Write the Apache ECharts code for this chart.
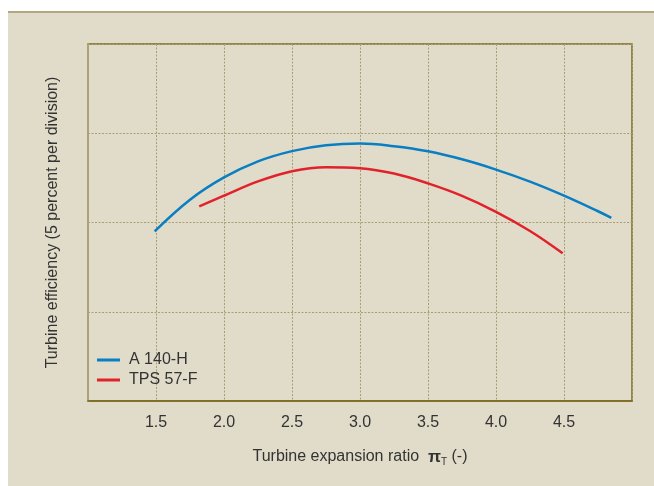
<!DOCTYPE html>
<html>
<head>
<meta charset="utf-8">
<script src="https://cdn.jsdelivr.net/npm/echarts@6/dist/echarts.min.js"></script>
<style>html,body{margin:0;padding:0;background:#fff;}#c{width:654px;height:486px;}</style>
</head>
<body>
<div id="c"></div>
<script>
// Data
const xTicks = [1.5, 2.0, 2.5, 3.0, 3.5, 4.0, 4.5];
const seriesNames = ['A 140-H', 'TPS 57-F'];
const a140X = [1.49, 1.75, 2.0, 2.25, 2.5, 2.75, 3.0, 3.25, 3.5, 3.75, 4.0, 4.25, 4.5, 4.75, 4.848];
const a140Y = [1.90, 2.255, 2.505, 2.685, 2.80, 2.865, 2.885, 2.855, 2.798, 2.708, 2.593, 2.458, 2.301, 2.126, 2.052];
const tpsX = [1.818, 2.0, 2.25, 2.5, 2.75, 3.0, 3.25, 3.5, 3.75, 4.0, 4.25, 4.49];
const tpsY = [2.18, 2.30, 2.46, 2.575, 2.62, 2.608, 2.548, 2.438, 2.298, 2.12, 1.905, 1.655];

const pairs = (xs, ys) => xs.map((x, i) => [x, ys[i]]);
const FONT = 'Liberation Sans, Arial, sans-serif';
const chart = echarts.init(document.getElementById('c'), null, {renderer: 'canvas'});
chart.setOption({
  backgroundColor: '#ffffff',
  animation: false,
  graphic: [
    {type: 'rect', z: -10, shape: {x: 8, y: 12, width: 646, height: 474}, style: {fill: '#e1dcc9'}},
    {type: 'rect', z: -9, shape: {x: 8, y: 11, width: 646, height: 2}, style: {fill: '#b1a67f'}}
  ],
  grid: {left: 88, top: 44, right: 22, bottom: 85, show: true, backgroundColor: 'transparent',
         borderColor: '#7a6a1c', borderWidth: 1.5},
  legend: {
    data: seriesNames, orient: 'vertical', left: 92, top: 347, itemWidth: 23, itemHeight: 3,
    itemGap: 4, icon: 'rect',
    textStyle: {fontFamily: FONT, fontSize: 16, color: '#333333', padding: [0, 0, 0, 4]}
  },
  xAxis: {
    type: 'value', min: 1, max: 5, interval: 0.5,
    name: 'Turbine expansion ratio  {pi|π}{sub|T} (-)',
    nameLocation: 'middle', nameGap: 46,
    nameTextStyle: {fontFamily: FONT, fontSize: 16, color: '#333333',
      rich: {pi: {fontFamily: FONT, fontSize: 17, fontWeight: 'bold', color: '#333333'},
             sub: {fontFamily: FONT, fontSize: 10, color: '#333333', padding: [10, 0, 0, 0]}}},
    axisLine: {show: true, lineStyle: {color: '#7a6a1c', width: 1.5}},
    axisTick: {show: false},
    axisLabel: {fontFamily: FONT, fontSize: 16, color: '#333333', margin: 14,
      formatter: v => (xTicks.some(t => Math.abs(t - v) < 1e-6) ? v.toFixed(1) : '')},
    splitLine: {show: true, lineStyle: {color: '#a99e72', type: [2, 1.5], width: 1}}
  },
  yAxis: {
    type: 'value', min: 0, max: 4, interval: 1,
    name: 'Turbine efficiency (5 percent per division)',
    nameLocation: 'middle', nameGap: 27,
    nameTextStyle: {fontFamily: FONT, fontSize: 16, color: '#333333'},
    axisLine: {show: true, lineStyle: {color: '#ada178', width: 2}},
    axisTick: {show: false},
    axisLabel: {show: false},
    splitLine: {show: true, lineStyle: {color: '#a99e72', type: [2, 1.5], width: 1}}
  },
  series: [
    {name: seriesNames[0], type: 'line', smooth: 0.4, showSymbol: false, data: pairs(a140X, a140Y),
     lineStyle: {color: '#0a7ec2', width: 2.5}, itemStyle: {color: '#0a7ec2'}},
    {name: seriesNames[1], type: 'line', smooth: 0.4, showSymbol: false, data: pairs(tpsX, tpsY),
     lineStyle: {color: '#e2222b', width: 2.5}, itemStyle: {color: '#e2222b'}}
  ]
});
</script>
</body>
</html>
